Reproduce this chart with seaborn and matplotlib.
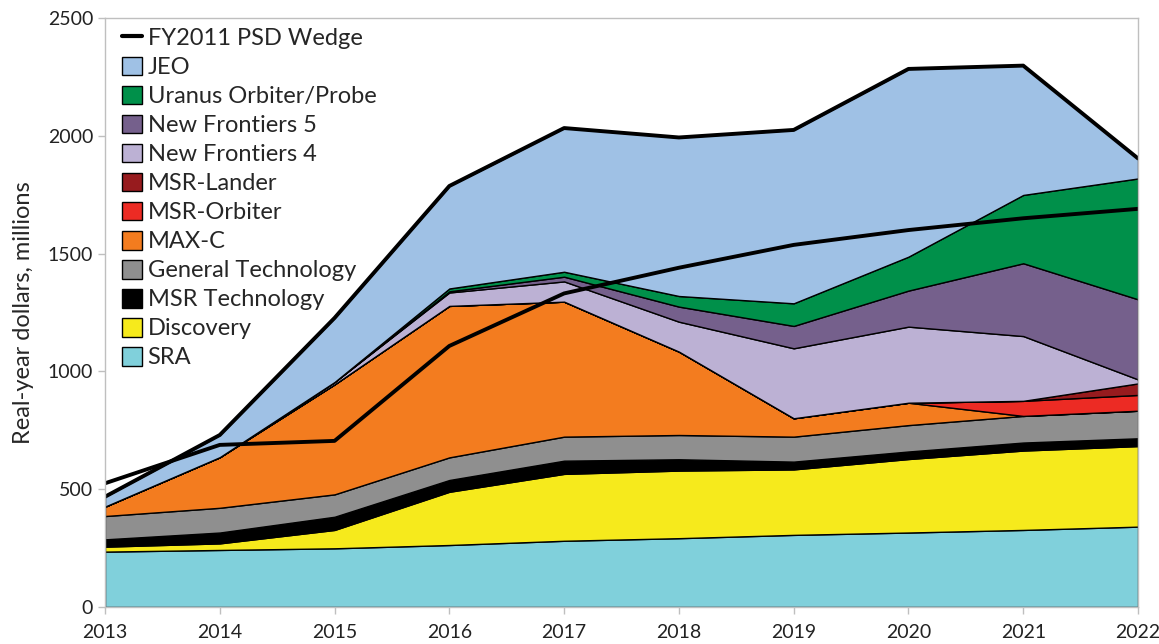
import numpy as np
import pandas as pd
import seaborn as sns
import matplotlib
matplotlib.use("Agg")
import matplotlib.pyplot as plt
from matplotlib.patches import Patch
from matplotlib.lines import Line2D

# budget data, real-year dollars (millions)
years = [2013, 2014, 2015, 2016, 2017, 2018, 2019, 2020, 2021, 2022]
sra = [235, 242, 249, 263, 281, 292, 306, 316, 327, 341]
discovery = [21, 28, 78, 226, 284, 287, 278, 312, 337, 342]
msr_tech = [31, 46, 56, 50, 56, 48, 33, 32, 34, 33]
gen_tech = [99, 105, 95, 96, 102, 103, 106, 112, 113, 117]
max_c = [40, 215, 467, 643, 573, 354, 78, 95, 0, 0]
msr_orbiter = [0, 0, 0, 0, 0, 0, 0, 0, 64, 67]
msr_lander = [0, 0, 0, 0, 0, 0, 0, 0, 0, 49]
nf4 = [0, 0, 10, 57, 86, 127, 297, 323, 275, 17]
nf5 = [0, 0, 0, 5, 20, 64, 95, 153, 309, 340]
uranus = [0, 0, 0, 12, 21, 45, 96, 144, 290, 513]
jeo = [42, 94, 272, 435, 610, 673, 736, 797, 549, 85]
psd_wedge = [525, 688, 705, 1108, 1331, 1440, 1537, 1600, 1650, 1690]

# bottom to top
layers = [
    ("SRA", sra, "#80d0db"),
    ("Discovery", discovery, "#f6ea1c"),
    ("MSR Technology", msr_tech, "#000000"),
    ("General Technology", gen_tech, "#8f8f8f"),
    ("MAX-C", max_c, "#f37c1f"),
    ("MSR-Orbiter", msr_orbiter, "#ec2b24"),
    ("MSR-Lander", msr_lander, "#971b1e"),
    ("New Frontiers 4", nf4, "#bcb1d4"),
    ("New Frontiers 5", nf5, "#75608c"),
    ("Uranus Orbiter/Probe", uranus, "#00904a"),
    ("JEO", jeo, "#9fc1e5"),
]

sns.set_theme(style="white")
plt.rcParams["font.family"] = ["Lato", "DejaVu Sans"]

fig, ax = plt.subplots(figsize=(11.59, 6.44), dpi=100)
fig.subplots_adjust(left=0.0906, right=0.9819, top=0.972, bottom=0.0575)

ax.stackplot(years, *[v for _, v, _ in layers],
             colors=[c for _, _, c in layers],
             edgecolor="black", linewidth=1.0)

total = pd.DataFrame({"year": years,
                      "total": np.sum([v for _, v, _ in layers], axis=0)})
sns.lineplot(data=total, x="year", y="total", color="black", lw=2.8, ax=ax)

psd = pd.DataFrame({"year": years, "value": psd_wedge})
sns.lineplot(data=psd, x="year", y="value", color="black", lw=2.8, ax=ax)

ax.set_xlim(2013, 2022)
ax.set_ylim(0, 2500)
ax.set_xticks(years)
ax.set_yticks(range(0, 2501, 500))
ax.set_xlabel("")
ax.set_ylabel("Real-year dollars, millions", fontsize=17, labelpad=10)
ax.tick_params(axis="both", labelsize=14, colors="#222222")
ax.tick_params(axis="both", which="major", length=5, width=1,
               color="#bfbfbf", bottom=True, left=True)
ax.tick_params(axis="x", pad=7)
for s in ax.spines.values():
    s.set_color("#bfbfbf")
    s.set_linewidth(1)

handles = [Line2D([0], [0], color="black", lw=3)]
labels = ["FY2011 PSD Wedge"]
for name, _, col in reversed(layers):
    handles.append(Patch(facecolor=col, edgecolor="black", linewidth=1))
    labels.append(name)

ax.legend(handles, labels, loc="upper left", bbox_to_anchor=(0.0, 1.012),
          frameon=False, fontsize=17, handlelength=0.85, handleheight=0.85,
          handletextpad=0.25, labelspacing=0.315, borderaxespad=0.3)

fig.savefig("out.png", dpi=100)
